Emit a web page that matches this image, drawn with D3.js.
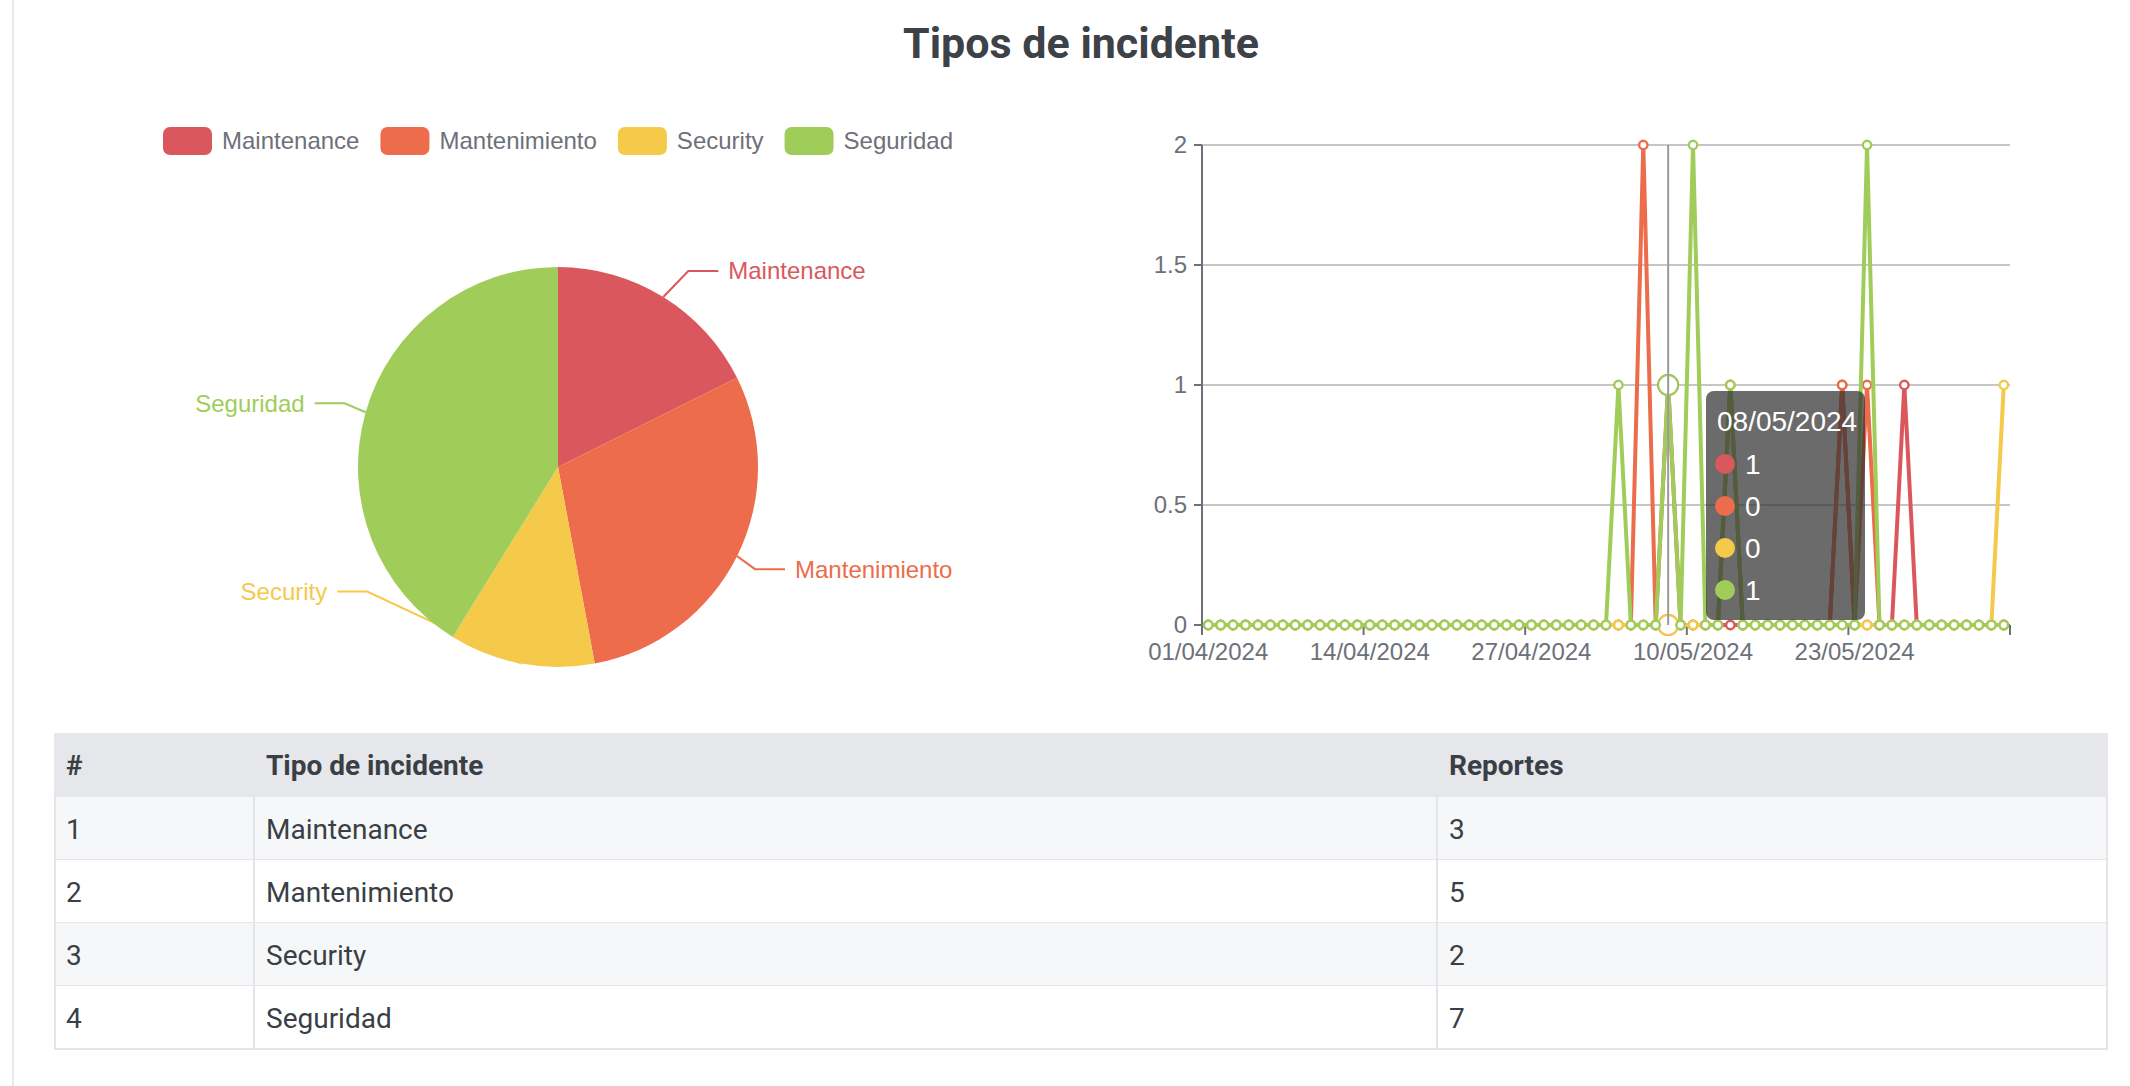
<!DOCTYPE html>
<html><head><meta charset="utf-8">
<script src="https://cdn.jsdelivr.net/npm/d3@7"></script>
<style>
html,body{margin:0;padding:0;background:#fff;}
svg{display:block;}
</style></head><body>
<svg id="chart" width="2130" height="1086"></svg>
<script>
const chartTitle = "Tipos de incidente";
const types = ["Maintenance", "Mantenimiento", "Security", "Seguridad"];
const reports = [3, 5, 2, 7];
const colors = ["#db575e", "#ec6c4c", "#f5c94a", "#a0cd5a"];
const tableHeaders = ["#", "Tipo de incidente", "Reportes"];

const dates = [
  "01/04/2024","02/04/2024","03/04/2024","04/04/2024","05/04/2024","06/04/2024","07/04/2024","08/04/2024","09/04/2024","10/04/2024",
  "11/04/2024","12/04/2024","13/04/2024","14/04/2024","15/04/2024","16/04/2024","17/04/2024","18/04/2024","19/04/2024","20/04/2024",
  "21/04/2024","22/04/2024","23/04/2024","24/04/2024","25/04/2024","26/04/2024","27/04/2024","28/04/2024","29/04/2024","30/04/2024",
  "01/05/2024","02/05/2024","03/05/2024","04/05/2024","05/05/2024","06/05/2024","07/05/2024","08/05/2024","09/05/2024","10/05/2024",
  "11/05/2024","12/05/2024","13/05/2024","14/05/2024","15/05/2024","16/05/2024","17/05/2024","18/05/2024","19/05/2024","20/05/2024",
  "21/05/2024","22/05/2024","23/05/2024","24/05/2024","25/05/2024","26/05/2024","27/05/2024","28/05/2024","29/05/2024","30/05/2024",
  "31/05/2024","01/06/2024","02/06/2024","03/06/2024","04/06/2024"
];

const maintenanceSeries = [
  0,0,0,0,0,0,0,0,0,0,0,0,0,
  0,0,0,0,0,0,0,0,0,0,0,0,0,
  0,0,0,0,0,0,0,0,0,0,0,1,0,
  0,0,0,0,0,0,0,0,0,0,0,0,1,
  0,0,0,0,1,0,0,0,0,0,0,0,0
];
const mantenimientoSeries = [
  0,0,0,0,0,0,0,0,0,0,0,0,0,
  0,0,0,0,0,0,0,0,0,0,0,0,0,
  0,0,0,0,0,0,0,0,0,2,0,0,0,
  0,0,0,1,0,0,0,0,0,0,0,0,1,
  0,1,0,0,0,0,0,0,0,0,0,0,0
];
const securitySeries = [
  0,0,0,0,0,0,0,0,0,0,0,0,0,
  0,0,0,0,0,0,0,0,0,0,0,0,0,
  0,0,0,0,0,0,0,0,0,0,0,0,0,
  0,0,0,1,0,0,0,0,0,0,0,0,0,
  0,0,0,0,0,0,0,0,0,0,0,0,1
];
const seguridadSeries = [
  0,0,0,0,0,0,0,0,0,0,0,0,0,
  0,0,0,0,0,0,0,0,0,0,0,0,0,
  0,0,0,0,0,0,0,1,0,0,0,1,0,
  2,0,0,1,0,0,0,0,0,0,0,0,0,
  0,2,0,0,0,0,0,0,0,0,0,0,0
];
const yTickValues = [0, 0.5, 1, 1.5, 2];
const yTickLabels = ["0", "0.5", "1", "1.5", "2"];
const xLabelInterval = 13;
const hoverIndex = 37;

const seriesList = [maintenanceSeries, mantenimientoSeries, securitySeries, seguridadSeries];

const svg = d3.select("#chart");
const echFont = "'Liberation Sans', Arial, Helvetica, sans-serif";
const pageFont = "Roboto, 'Liberation Sans', sans-serif";

// page left border
svg.append("rect").attr("x", 12).attr("y", 0).attr("width", 2).attr("height", 1086).attr("fill", "#e7e8eb");

// title
svg.append("text").attr("x", 1081).attr("y", 58).attr("text-anchor", "middle")
  .attr("font-family", pageFont).attr("font-weight", 700).attr("font-size", 43)
  .attr("fill", "#3d4148").text(chartTitle);

// ---------------- PIE ----------------
const pieCx = 558, pieCy = 467, pieR = 200;
const labelBend = [[25, -26], [18, 13], [-154, -72], [-21, -9]];
const pieData = d3.pie().sort(null).value(d => d)(reports);
const arc = d3.arc().innerRadius(0).outerRadius(pieR);
const pg = svg.append("g").attr("transform", `translate(${pieCx},${pieCy})`);
const sliceLayer = pg.append("g");
const textLayer = pg.append("g");
pieData.forEach((p, i) => {
  const mid = (p.startAngle + p.endAngle) / 2;
  const A = [pieR * Math.sin(mid), -pieR * Math.cos(mid)];
  const B = [A[0] + labelBend[i][0], A[1] + labelBend[i][1]];
  const right = B[0] > 0;
  const C = [B[0] + (right ? 30 : -30), B[1]];
  sliceLayer.append("path").attr("d", arc(p)).attr("fill", colors[i]);
  sliceLayer.append("path").attr("d", d3.line()([A, B, C])).attr("fill", "none")
    .attr("stroke", colors[i]).attr("stroke-width", 2);
  textLayer.append("text").attr("x", C[0] + (right ? 10 : -10)).attr("y", C[1])
    .attr("dy", "0.35em").attr("text-anchor", right ? "start" : "end")
    .attr("font-family", echFont).attr("font-size", 24).attr("fill", colors[i]).text(types[i]);
});

// legend
const lg = svg.append("g");
let items = [];
types.forEach((t, i) => {
  const it = lg.append("g");
  it.append("rect").attr("width", 49).attr("height", 28).attr("rx", 7).attr("fill", colors[i]);
  const tx = it.append("text").attr("x", 59).attr("y", 14).attr("dy", "0.35em")
    .attr("font-family", echFont).attr("font-size", 24).attr("fill", "#6e7079").text(t);
  items.push({g: it, w: 59 + tx.node().getComputedTextLength()});
});
const totalW = d3.sum(items, d => d.w) + 21 * (items.length - 1);
let lx = pieCx - totalW / 2;
items.forEach(d => { d.g.attr("transform", `translate(${lx},127)`); lx += d.w + 21; });

// ---------------- LINE CHART ----------------
const x = d3.scaleBand().domain(dates).range([1202, 2010]).padding(0);
const bw = x.bandwidth();
const y = d3.scaleLinear().domain([0, 2]).range([625, 145]);
const lc = svg.append("g");

// grid
yTickValues.forEach(v => {
  if (v === 0) return;
  lc.append("line").attr("x1", 1202).attr("x2", 2010).attr("y1", y(v)).attr("y2", y(v))
    .attr("stroke", "#c6c6c6").attr("stroke-width", 2);
});
// y axis
lc.append("line").attr("x1", 1202).attr("x2", 1202).attr("y1", y(2)).attr("y2", y(0))
  .attr("stroke", "#6e7079").attr("stroke-width", 2);
yTickValues.forEach((v, k) => {
  lc.append("line").attr("x1", 1194).attr("x2", 1202).attr("y1", y(v)).attr("y2", y(v))
    .attr("stroke", "#6e7079").attr("stroke-width", 2);
  lc.append("text").attr("x", 1187).attr("y", y(v)).attr("dy", "0.35em").attr("text-anchor", "end")
    .attr("font-family", echFont).attr("font-size", 24).attr("fill", "#6e7079").text(yTickLabels[k]);
});
// x axis
lc.append("line").attr("x1", 1202).attr("x2", 2010).attr("y1", y(0)).attr("y2", y(0))
  .attr("stroke", "#6e7079").attr("stroke-width", 2);
dates.forEach((d, i) => {
  if (i % xLabelInterval !== 0) return;
  lc.append("line").attr("x1", x(d)).attr("x2", x(d)).attr("y1", y(0)).attr("y2", y(0) + 10)
    .attr("stroke", "#6e7079").attr("stroke-width", 2);
  lc.append("text").attr("x", x(d) + bw / 2).attr("y", 660).attr("text-anchor", "middle")
    .attr("font-family", echFont).attr("font-size", 24).attr("fill", "#6e7079").text(d);
});
lc.append("line").attr("x1", x.range()[1]).attr("x2", x.range()[1]).attr("y1", y(0)).attr("y2", y(0) + 10)
  .attr("stroke", "#6e7079").attr("stroke-width", 2);

// series
const lineGen = d3.line().x((d, i) => x(dates[i]) + bw / 2).y(d => y(d));
seriesList.forEach((s, k) => {
  const g = lc.append("g");
  g.append("path").attr("d", lineGen(s)).attr("fill", "none").attr("stroke", colors[k])
    .attr("stroke-width", 4).attr("stroke-linejoin", "round");
  s.forEach((v, i) => {
    const big = i === hoverIndex;
    g.append("circle").attr("cx", x(dates[i]) + bw / 2).attr("cy", y(v))
      .attr("r", big ? 10 : 4.2).attr("fill", "#fff").attr("stroke", colors[k])
      .attr("stroke-width", big ? 2 : 2.4);
  });
});

// axis pointer
const px = x(dates[hoverIndex]) + bw / 2;
lc.append("line").attr("x1", px).attr("x2", px).attr("y1", y(2)).attr("y2", y(0))
  .attr("stroke", "#9a9a9a").attr("stroke-width", 2);

// tooltip
const tt = svg.append("g").attr("transform", "translate(1706,391)");
tt.append("rect").attr("width", 159).attr("height", 229).attr("rx", 8).attr("fill", "rgba(50,50,50,0.72)");
tt.append("text").attr("x", 11).attr("y", 40).attr("font-family", echFont).attr("font-size", 28)
  .attr("fill", "#fff").text(dates[hoverIndex]);
seriesList.forEach((s, k) => {
  const cy = 73 + k * 42;
  tt.append("circle").attr("cx", 19).attr("cy", cy).attr("r", 10).attr("fill", colors[k]);
  tt.append("text").attr("x", 39).attr("y", cy).attr("dy", "0.36em").attr("font-family", echFont)
    .attr("font-size", 28).attr("fill", "#fff").text(s[hoverIndex]);
});

// ---------------- TABLE ----------------
const tX0 = 54, tX1 = 2108, colX = [54, 254, 1437];
const headTop = 733, headH = 64, rowH = 63;
const tb = svg.append("g");
tb.append("rect").attr("x", tX0).attr("y", headTop).attr("width", tX1 - tX0).attr("height", headH).attr("fill", "#e5e7eb");
tableHeaders.forEach((h, c) => {
  tb.append("text").attr("x", colX[c] + 12).attr("y", headTop + headH / 2).attr("dy", "0.36em")
    .attr("font-family", pageFont).attr("font-weight", 700).attr("font-size", 28).attr("fill", "#3a3f46").text(h);
});
types.forEach((t, r) => {
  const ry = headTop + headH + r * rowH;
  tb.append("rect").attr("x", tX0).attr("y", ry).attr("width", tX1 - tX0).attr("height", rowH)
    .attr("fill", r % 2 === 0 ? "#f6f7f9" : "#ffffff");
  tb.append("line").attr("x1", tX0).attr("x2", tX1).attr("y1", ry + rowH).attr("y2", ry + rowH)
    .attr("stroke", "#e3e5e9").attr("stroke-width", 2);
  [String(r + 1), t, String(reports[r])].forEach((v, c) => {
    tb.append("text").attr("x", colX[c] + 12).attr("y", ry + rowH / 2).attr("dy", "0.36em")
      .attr("font-family", pageFont).attr("font-size", 28).attr("fill", "#3a3f46").text(v);
  });
});
const bodyTop = headTop + headH, bodyBot = headTop + headH + types.length * rowH;
[tX0 + 1, colX[1], colX[2], tX1 - 1].forEach(cx => {
  tb.append("line").attr("x1", cx).attr("x2", cx).attr("y1", bodyTop).attr("y2", bodyBot)
    .attr("stroke", "#e3e5e9").attr("stroke-width", 2);
});
</script>
</body></html>
